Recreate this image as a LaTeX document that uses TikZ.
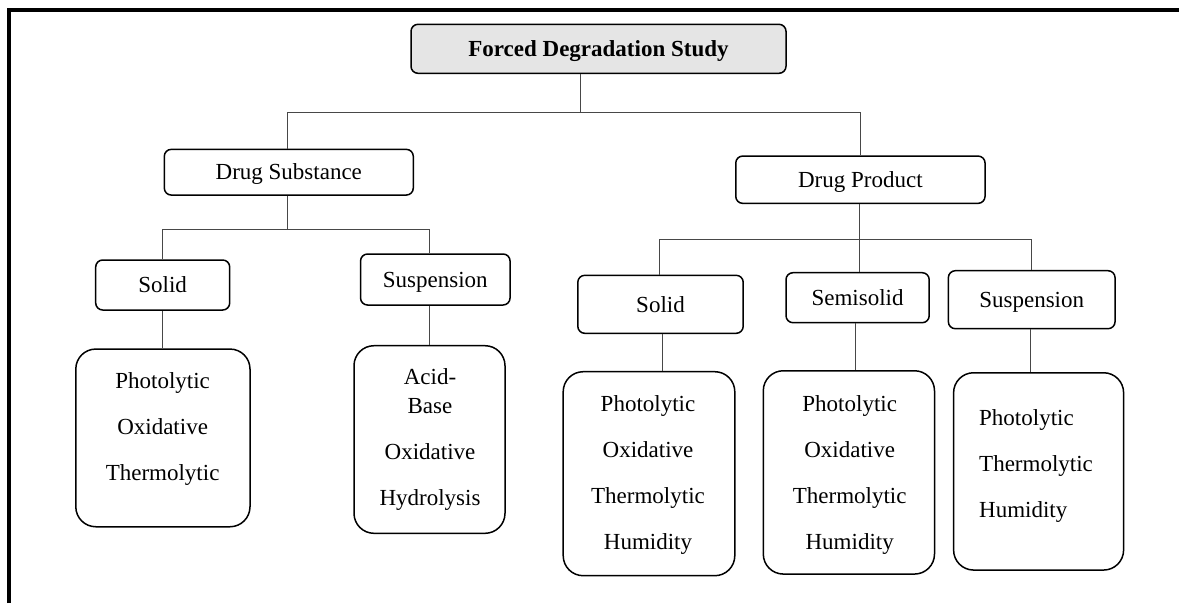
\documentclass[tikz,border=0pt]{standalone}
\usepackage{fontspec}
\setmainfont{Liberation Serif}
\begin{document}
\begin{tikzpicture}[x=1pt,y=-1pt,
  box/.style={draw=black, line width=1.5pt, rounded corners=7pt, inner sep=0pt,
    font=\fontsize{23}{46}\selectfont, text height=15.5pt, text depth=0pt},
  bigbox/.style={draw=black, line width=1.5pt, rounded corners=20pt, inner sep=0pt},
  txt/.style={inner sep=0pt, font=\fontsize{23}{46}\selectfont, align=center},
  conn/.style={draw=black!72, line width=1pt},
  frame/.style={draw=black, line width=3.5pt}]
\useasboundingbox (0,0) rectangle (1179,603);
% frame
\draw[frame] (9,603) -- (9,10) -- (1179,10);
% top
\node[box, fill=black!10, minimum width=375pt, minimum height=49pt, font=\fontsize{23}{46}\selectfont\bfseries] (title) at (598.5,48.8) {Forced Degradation Study};
% level 1
\node[box, minimum width=249pt, minimum height=45.7pt] (ds) at (288.8,172.2) {Drug Substance};
\node[box, minimum width=249.3pt, minimum height=47.3pt] (dp) at (860.4,179.7) {Drug Product\hspace{24pt}};
% level 2
\node[box, minimum width=134pt, minimum height=50pt] (ds1) at (162.7,285) {Solid};
\node[box, minimum width=149.5pt, minimum height=51pt] (ds2) at (435.3,279.5) {Suspension};
\node[box, minimum width=165.4pt, minimum height=58pt] (dp1) at (660.5,304.3) {Solid};
\node[box, minimum width=143.2pt, minimum height=50pt] (dp2) at (857.6,297.7) {Semisolid};
\node[box, minimum width=166.7pt, minimum height=58pt] (dp3) at (1031.7,299.7) {Suspension};
% level 3 boxes
\node[bigbox, minimum width=174.2pt, minimum height=177.7pt] (b1) at (162.9,437.9) {};
\node[bigbox, minimum width=151pt, minimum height=187.6pt] (b2) at (429.5,439.5) {};
\node[bigbox, minimum width=171.6pt, minimum height=204pt] (b3) at (649,473.7) {};
\node[bigbox, minimum width=171.2pt, minimum height=203.3pt] (b4) at (848.9,472.4) {};
\node[bigbox, minimum width=170pt, minimum height=197.3pt] (b5) at (1038.6,471.4) {};
% level 3 texts
\node[txt] (t1) at (162.6,429.2) {Photolytic\\Oxidative\\Thermolytic};
\node[txt] (t2) at (430,439.2) {Acid-\\[-17.3pt]Base\\Oxidative\\Hydrolysis};
\node[txt] (t3) at (648,474.7) {Photolytic\\Oxidative\\Thermolytic\\Humidity};
\node[txt] (t4) at (849.7,474.7) {Photolytic\\Oxidative\\Thermolytic\\Humidity};
\node[txt, align=left, anchor=west] (t5) at (979,466.3) {Photolytic\\Thermolytic\\Humidity};
% junction coordinates
\coordinate (v1) at (580,0);
\coordinate (h1a) at (287,112.7);
\coordinate (h1b) at (860,112.7);
\coordinate (h2a) at (162.6,229.3);
\coordinate (h2b) at (429.4,229.3);
\coordinate (h2m) at (287,229.3);
\coordinate (h3a) at (659.7,239);
\coordinate (h3m) at (859.5,239);
\coordinate (h3b) at (1031.8,239);
\coordinate (v3) at (662,0);
\coordinate (v4) at (855.8,0);
\coordinate (v5) at (1030.2,0);
% connectors
\draw[conn] (title.south -| v1) -- (v1 |- h1a);
\draw[conn] (ds.north -| h1a) -- (h1a) -- (h1b) -- (dp.north -| h1b);
\draw[conn] (ds.south -| h2m) -- (h2m);
\draw[conn] (ds1.north -| h2a) -- (h2a) -- (h2b) -- (ds2.north -| h2b);
\draw[conn] (ds1.south -| h2a) -- (b1.north -| h2a);
\draw[conn] (ds2.south -| h2b) -- (b2.north -| h2b);
\draw[conn] (dp.south -| h3m) -- (dp2.north -| h3m);
\draw[conn] (dp1.north -| h3a) -- (h3a) -- (h3b) -- (dp3.north -| h3b);
\draw[conn] (dp1.south -| v3) -- (b3.north -| v3);
\draw[conn] (dp2.south -| v4) -- (b4.north -| v4);
\draw[conn] (dp3.south -| v5) -- (b5.north -| v5);
\end{tikzpicture}
\end{document}
